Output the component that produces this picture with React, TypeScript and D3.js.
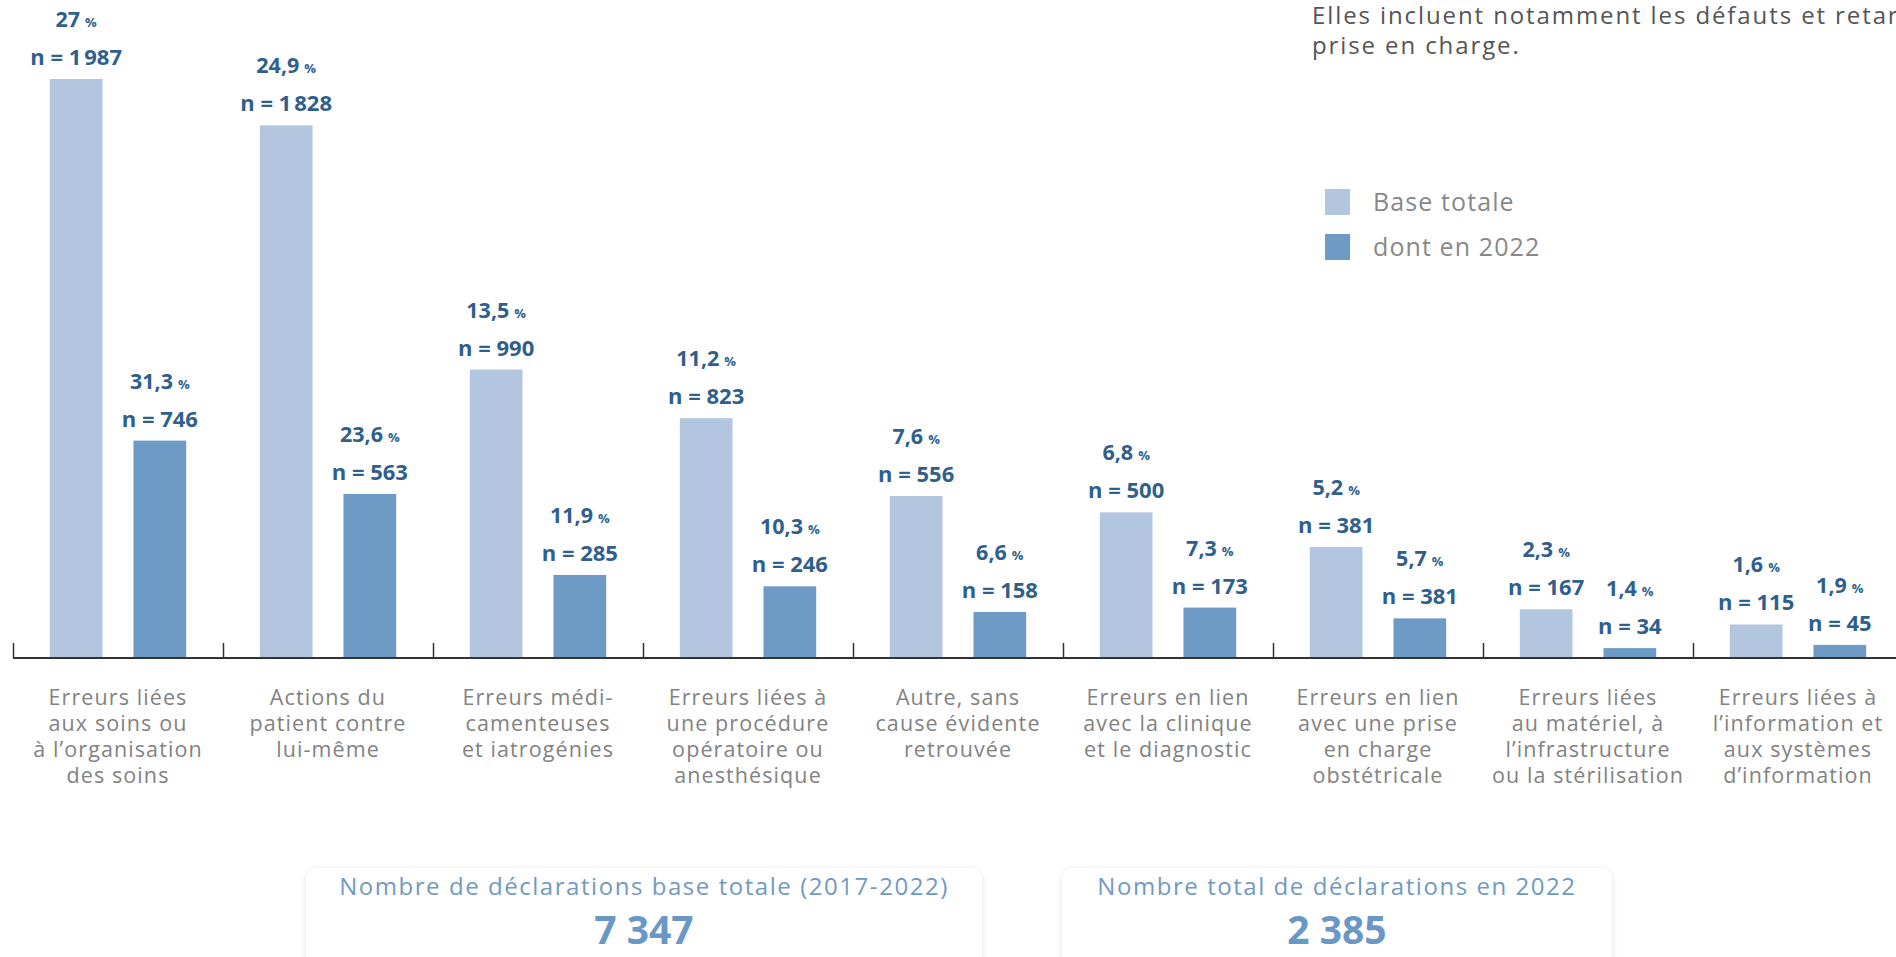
import React from "react";
import * as d3 from "d3";

const categories: string[][] = [
  ["Erreurs liées", "aux soins ou", "à l’organisation", "des soins"],
  ["Actions du", "patient contre", "lui-même"],
  ["Erreurs médi-", "camenteuses", "et iatrogénies"],
  ["Erreurs liées à", "une procédure", "opératoire ou", "anesthésique"],
  ["Autre, sans", "cause évidente", "retrouvée"],
  ["Erreurs en lien", "avec la clinique", "et le diagnostic"],
  ["Erreurs en lien", "avec une prise", "en charge", "obstétricale"],
  ["Erreurs liées", "au matériel, à", "l’infrastructure", "ou la stérilisation"],
  ["Erreurs liées à", "l’information et", "aux systèmes", "d’information"],
];

const baseN = [1987, 1828, 990, 823, 556, 500, 381, 167, 115];
const basePct = ["27", "24,9", "13,5", "11,2", "7,6", "6,8", "5,2", "2,3", "1,6"];
const n2022 = [746, 563, 285, 246, 158, 173, 136, 34, 45];
const n2022Label = ["746", "563", "285", "246", "158", "173", "381", "34", "45"];
const pct2022 = ["31,3", "23,6", "11,9", "10,3", "6,6", "7,3", "5,7", "1,4", "1,9"];

const legendItems = ["Base totale", "dont en 2022"];
const totalBase = "7 347";
const total2022 = "2 385";

const W = 1896;
const H = 957;
const BASE_COLOR = "#b3c6e0";
const Y22_COLOR = "#6e9bc6";
const LABEL_COLOR = "#2f5f8c";
const GREY = "#888888";
const FONT = "'Open Sans', sans-serif";

const fmtN = (v: number) => d3.format(",")(v).replace(/,/g, "\u202F");

export default function App() {
  const x = d3
    .scaleBand<number>()
    .domain(d3.range(categories.length))
    .range([13, 13 + 210 * categories.length]);
  const inner = d3
    .scaleBand<string>()
    .domain(["base", "y2022"])
    .range([0, x.bandwidth()])
    .paddingInner(0.37)
    .paddingOuter(0.44);
  const y = d3
    .scaleLinear()
    .domain([0, d3.max(baseN) as number])
    .range([658, 79]);
  const baseline = y(0);
  const bw = inner.bandwidth();

  const valueLabel = (cx: number, top: number, pct: string, nText: string, key: string) => (
    <g key={key} fill={LABEL_COLOR} fontFamily={FONT} fontWeight={700} textAnchor="middle">
      <text x={cx} y={top - 52} fontSize={21.5}>
        {pct}
        <tspan fontSize={13} dx={5}>%</tspan>
      </text>
      <text x={cx} y={top - 14} fontSize={22}>
        {"n = " + nText}
      </text>
    </g>
  );

  return (
    <div style={{ position: "absolute", left: 0, top: 0, width: W, height: H, overflow: "hidden", background: "#fff" }}>
      <svg width={W} height={H} style={{ display: "block" }}>
        <defs>
          <filter id="shadow" x="-10%" y="-30%" width="120%" height="160%">
            <feDropShadow dx="0" dy="1" stdDeviation="3" floodColor="#000" floodOpacity="0.12" />
          </filter>
        </defs>

        {/* top-right note */}
        <g fontFamily={FONT} fontSize={24} fill="#555" letterSpacing={1.9}>
          <text x={1312} y={24}>Elles incluent notamment les défauts et retards de</text>
          <text x={1312} y={54}>prise en charge.</text>
        </g>

        {/* legend */}
        {legendItems.map((t, i) => (
          <g key={t} transform={`translate(1325, ${189 + i * 45})`}>
            <rect width={25} height={26} fill={i === 0 ? BASE_COLOR : Y22_COLOR} />
            <text x={48} y={22} fontFamily={FONT} fontSize={25} fill={GREY} letterSpacing={1.1}>
              {t}
            </text>
          </g>
        ))}

        {/* bars */}
        {categories.map((_, i) => {
          const gx = x(i) as number;
          const bx = gx + (inner("base") as number);
          const yx = gx + (inner("y2022") as number);
          return (
            <g key={"bars" + i}>
              <rect x={bx} y={y(baseN[i])} width={bw} height={baseline - y(baseN[i])} fill={BASE_COLOR} />
              <rect x={yx} y={y(n2022[i])} width={bw} height={baseline - y(n2022[i])} fill={Y22_COLOR} />
              {valueLabel(bx + bw / 2, y(baseN[i]), basePct[i], fmtN(baseN[i]), "lb" + i)}
              {valueLabel(yx + bw / 2, y(n2022[i]), pct2022[i], n2022Label[i], "ly" + i)}
            </g>
          );
        })}

        {/* axis */}
        <line x1={13} x2={W} y1={baseline} y2={baseline} stroke="#333" strokeWidth={2} />
        {categories.map((_, i) => (
          <line
            key={"t" + i}
            x1={(x(i) as number) + 0.5}
            x2={(x(i) as number) + 0.5}
            y1={baseline - 15}
            y2={baseline}
            stroke="#333"
            strokeWidth={1.5}
          />
        ))}

        {/* category labels */}
        {categories.map((lines, i) => (
          <text
            key={"c" + i}
            x={(x(i) as number) + x.bandwidth() / 2}
            y={705}
            textAnchor="middle"
            fontFamily={FONT}
            fontSize={21.5}
            letterSpacing={1.1}
            fill="#828282"
          >
            {lines.map((l, j) => (
              <tspan key={j} x={(x(i) as number) + x.bandwidth() / 2} dy={j === 0 ? 0 : 26}>
                {l}
              </tspan>
            ))}
          </text>
        ))}

        {/* totals boxes */}
        {[
          { x0: 306, x1: 982, label: "Nombre de déclarations base totale (2017-2022)", value: totalBase },
          { x0: 1062, x1: 1612, label: "Nombre total de déclarations en 2022", value: total2022 },
        ].map((b) => (
          <g key={b.label}>
            <rect x={b.x0} y={868} width={b.x1 - b.x0} height={110} rx={12} fill="#fff" filter="url(#shadow)" />
            <text x={(b.x0 + b.x1) / 2} y={895} textAnchor="middle" fontFamily={FONT} fontSize={24} letterSpacing={1.55} fill="#7199c2">
              {b.label}
            </text>
            <text x={(b.x0 + b.x1) / 2} y={944} textAnchor="middle" fontFamily={FONT} fontWeight={700} fontSize={39} fill="#6b97c4">
              {b.value}
            </text>
          </g>
        ))}
      </svg>
    </div>
  );
}
